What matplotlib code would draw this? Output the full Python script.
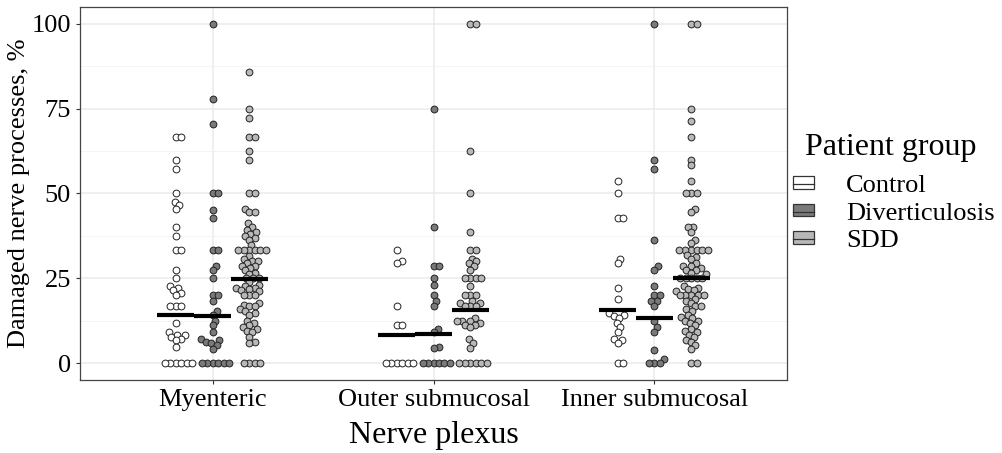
import numpy as np
import matplotlib
matplotlib.use("Agg")
import matplotlib.pyplot as plt
from matplotlib.patches import Patch
from matplotlib.lines import Line2D
from matplotlib.legend_handler import HandlerTuple

plt.rcParams['font.family'] = ['Liberation Serif', 'DejaVu Serif']

plexuses = ["Myenteric", "Outer submucosal", "Inner submucosal"]
groups = ["Control", "Diverticulosis", "SDD"]
group_fill = ["#ffffff", "#7a7a7a", "#b8b8b8"]

# damaged processes per patient, %
myent_control = [66.7, 66.7, 60, 57.1, 50, 47.6, 46.7, 45.5, 40, 37.5, 33.3, 33.3,
                 27.3, 25, 22.7, 22.2, 21.4, 20.8, 20, 16.7, 16.7, 16.7, 11.8, 9.1,
                 8.3, 8.3, 7.7, 7.1, 6.7, 4.8, 0, 0, 0, 0, 0, 0]
myent_div = [100, 77.8, 70.6, 50, 50, 45, 42.9, 33.3, 33.3, 28.6, 27.3, 25, 20, 20,
             18.2, 15.4, 14.3, 12.5, 11.1, 9.1, 7.1, 6.7, 6.3, 5.9, 5.3, 4.2,
             0, 0, 0, 0, 0, 0]
myent_sdd = [85.7, 75, 72.2, 66.7, 66.7, 62.5, 60, 50, 50, 45.5, 44.4, 44.4, 41.2,
             40, 39.3, 38.5, 38.1, 37.5, 36.8, 36.4, 34.8, 33.3, 33.3, 33.3, 33.3,
             33.3, 33.3, 31.6, 30.8, 30, 30, 29.4, 28.6, 28.6, 28.1, 27.3, 26.7,
             26.3, 25, 25, 25, 23.8, 23.1, 22.7, 22.2, 22.2, 21.7, 21.4, 21.1, 20,
             20, 20, 17.6, 17.2, 16.7, 16.7, 15.8, 15.4, 14.8, 14.3, 12.5, 11.8,
             11.1, 10.5, 10, 9.5, 9.1, 7.7, 6.3, 5.9, 0, 0, 0, 0]

outer_control = [33.3, 30, 29.4, 16.7, 11.1, 11.1, 0, 0, 0, 0, 0, 0]
outer_div = [75, 40, 28.6, 28.6, 25, 23.1, 20, 18.2, 16.7, 10, 9.1, 4.8, 4.5,
             0, 0, 0, 0, 0, 0]
outer_sdd = [100, 100, 62.5, 50, 38.5, 33.3, 33.3, 30.8, 30, 29.4, 28.6, 27.3, 25,
             25, 25, 25, 22.7, 20, 20, 20, 18.2, 17.6, 17.6, 16.7, 16.7, 16.7, 13.3,
             12.5, 12.5, 12.5, 11.8, 11.1, 11.1, 10.5, 7.1, 5.9, 4.5,
             0, 0, 0, 0, 0, 0]

inner_control = [53.8, 50, 42.9, 42.9, 30.8, 29.4, 22.2, 19, 14.7, 14.3, 13.8, 13.3,
                 11.8, 10.5, 9.1, 7.1, 6.7, 5.9, 0, 0]
inner_div = [100, 60, 57.1, 36.4, 28.6, 27.3, 22.7, 20, 20, 18.2, 18.2, 16.7, 12.5,
             10.5, 9.1, 3.8, 1.2, 0, 0, 0]
inner_sdd = [100, 100, 75, 71.4, 66.7, 60, 58.3, 53.8, 50, 50, 50, 45.5, 44.4, 40,
             40, 38.5, 36.4, 35.3, 33.3, 33.3, 33.3, 33.3, 33.3, 33.3, 31.8, 31.3,
             30.8, 29.4, 28.6, 28.6, 28.1, 27.3, 27.3, 26.7, 26.3, 25, 25, 25, 25,
             25, 22.7, 22.2, 21.7, 21.4, 21.1, 20, 20, 20, 20, 20, 18.8, 18.2, 17.6,
             16.7, 16.7, 15.8, 15.4, 14.3, 13.6, 13.3, 12.5, 12.5, 11.8, 11.1, 10,
             9.5, 9.1, 8.3, 7.7, 6.7, 6.3, 5.3, 4.2, 0, 0]

# group means (horizontal bars)
myent_mean = [14.2, 13.9, 24.7]
outer_mean = [8.4, 8.5, 15.7]
inner_mean = [15.7, 13.4, 25.1]

values = [[myent_control, myent_div, myent_sdd],
          [outer_control, outer_div, outer_sdd],
          [inner_control, inner_div, inner_sdd]]
means = [myent_mean, outer_mean, inner_mean]


def swarm(y_px, d):
    """Beeswarm x offsets (pixels) so no two points sit closer than d."""
    y_px = np.asarray(y_px, float)
    off = np.zeros(len(y_px))
    px_x, px_y = [], []
    for i in np.argsort(y_px, kind="stable"):
        y = y_px[i]
        cands = [0.0]
        for xx, yy in zip(px_x, px_y):
            dy = abs(yy - y)
            if dy < d:
                dx = np.sqrt(d * d - dy * dy)
                cands += [xx + dx, xx - dx]
        cands.sort(key=abs)
        for c in cands:
            if all((c - xx) ** 2 + (y - yy) ** 2 >= d * d - 1e-6
                   for xx, yy in zip(px_x, px_y)):
                break
        off[i] = c
        px_x.append(c)
        px_y.append(y)
    return off


fig = plt.figure(figsize=(10.03, 4.53), dpi=100)
ax = fig.add_axes([80 / 1003, 1 - 380 / 453, 707 / 1003, 373 / 453])
xlim = (0.4, 3.6)
ylim = (-5, 105)
ax.set_xlim(*xlim)
ax.set_ylim(*ylim)

px_per_x = 707 / (xlim[1] - xlim[0])
px_per_y = 373 / (ylim[1] - ylim[0])
dodge = 1 / 6

for i, plex in enumerate(values):
    for j, vals in enumerate(plex):
        xc = i + 1 + (j - 1) * dodge
        v = np.array(vals, float)
        off = swarm(v * px_per_y, 5.5) / px_per_x
        ax.scatter(xc + off, v, s=24, facecolor=group_fill[j],
                   edgecolor="#222222", linewidth=0.7, zorder=3)
        ax.hlines(means[i][j], xc - dodge / 2, xc + dodge / 2, color="black",
                  linewidth=3, zorder=4, capstyle="butt")

ax.set_xticks([1, 2, 3])
ax.set_xticklabels(plexuses)
ax.set_yticks([0, 25, 50, 75, 100])
ax.set_yticks([12.5, 37.5, 62.5, 87.5], minor=True)
ax.grid(which="major", color="#ebebeb", linewidth=1.1, zorder=0)
ax.grid(which="minor", axis="y", color="#f2f2f2", linewidth=0.6, zorder=0)
ax.set_axisbelow(True)
ax.tick_params(axis="both", which="major", labelsize=19, color="#333333",
               length=3, width=0.8, pad=3.5)
ax.tick_params(axis="both", which="minor", length=0)
for sp in ax.spines.values():
    sp.set_color("#444444")
    sp.set_linewidth(0.9)

ax.set_xlabel("Nerve plexus", fontsize=23, labelpad=7.5)
ax.set_ylabel("Damaged nerve processes, %", fontsize=19, labelpad=1)

handles = [(Patch(facecolor=c, edgecolor="#333333", linewidth=0.9),
            Line2D([], [], color="#333333", linewidth=0.9)) for c in group_fill]
leg = fig.legend(handles, groups, loc="upper left",
                 bbox_to_anchor=(793 / 1003, 1 - 175 / 453),
                 handler_map={tuple: HandlerTuple(ndivide=1)},
                 frameon=False, fontsize=19, borderpad=0, borderaxespad=0,
                 handlelength=0.8, handleheight=0.35, handletextpad=1.2,
                 labelspacing=0.21)
fig.text(805 / 1003, 1 - 155 / 453, "Patient group", fontsize=23,
         va="baseline", ha="left")

fig.savefig("out.png", dpi=100)
